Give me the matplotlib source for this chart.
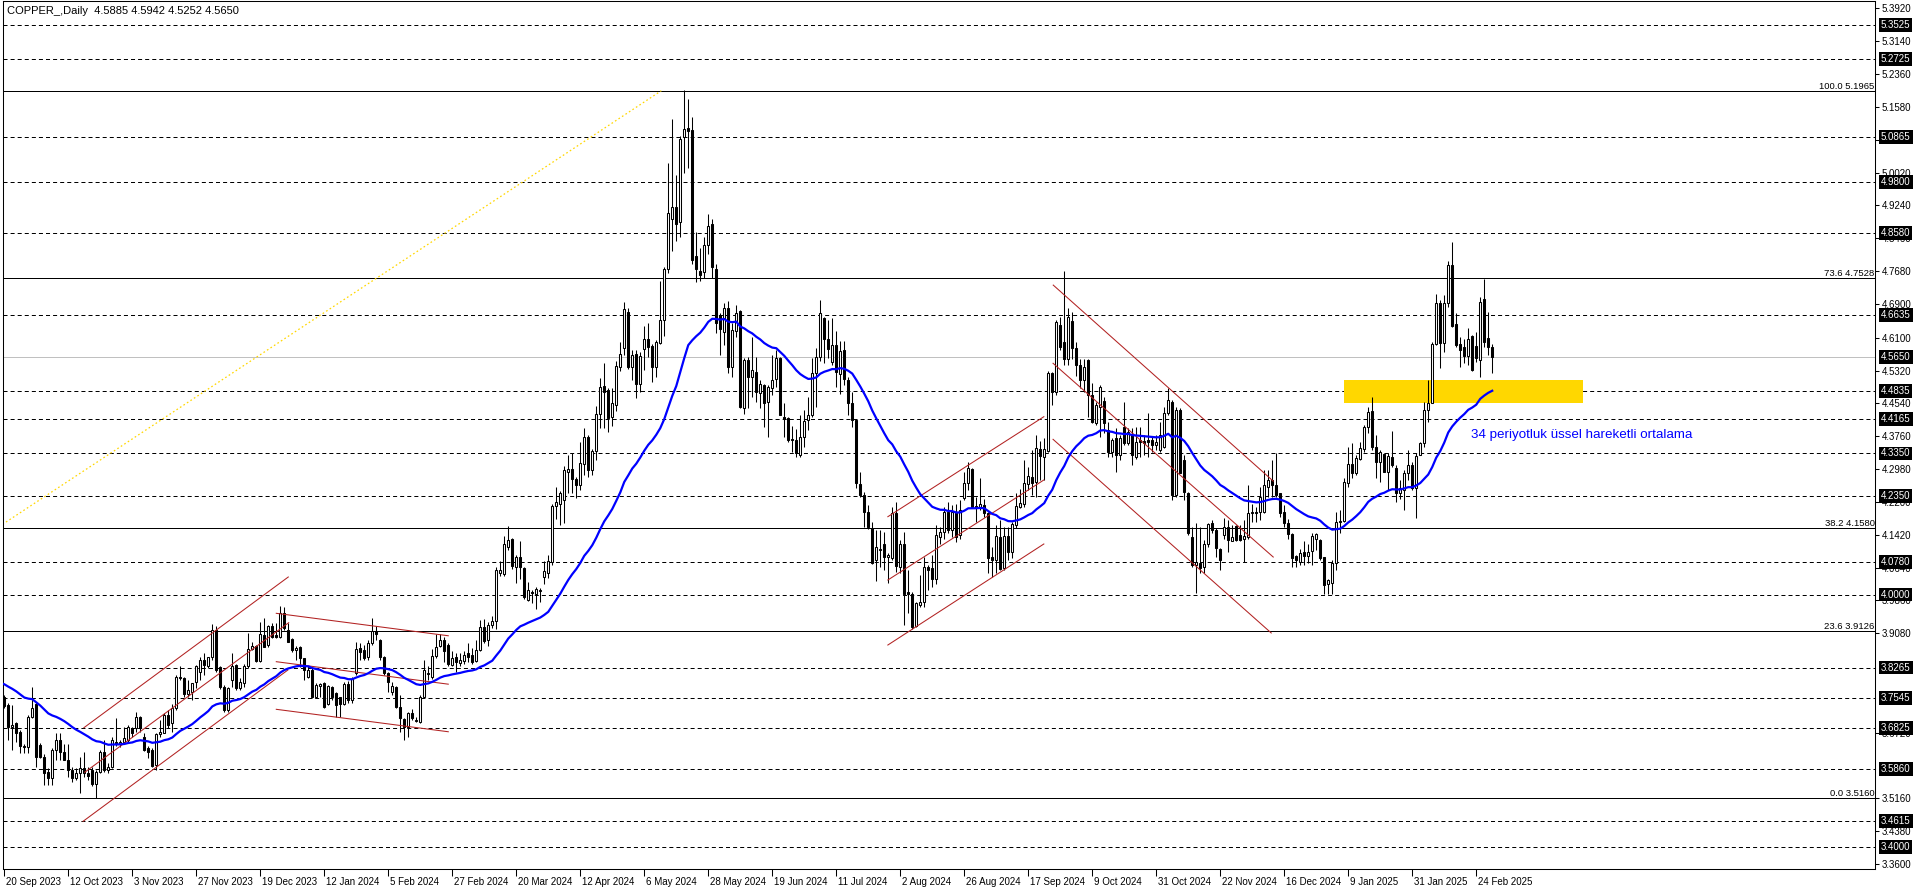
"""Daily COPPER_ candlestick chart with EMA(34), fib levels, channels and S/R lines."""

import matplotlib

matplotlib.use("Agg")
import matplotlib.pyplot as plt
import matplotlib.transforms as mtransforms
from matplotlib.patches import Rectangle
import numpy as np
import pandas as pd

plt.rcParams["font.family"] = ["Liberation Sans", "DejaVu Sans"]
plt.rcParams["lines.scale_dashes"] = False

TITLE = "COPPER_,Daily  4.5885 4.5942 4.5252 4.5650"
EMA_PERIOD = 34
EMA_SEED = 3.79  # EMA value on the bar before the first visible one
LABEL_STEP = 16  # bars between date labels

date_labels = [
    "20 Sep 2023", "12 Oct 2023", "3 Nov 2023", "27 Nov 2023", "19 Dec 2023",
    "12 Jan 2024", "5 Feb 2024", "27 Feb 2024", "20 Mar 2024", "12 Apr 2024",
    "6 May 2024", "28 May 2024", "19 Jun 2024", "11 Jul 2024", "2 Aug 2024",
    "26 Aug 2024", "17 Sep 2024", "9 Oct 2024", "31 Oct 2024", "22 Nov 2024",
    "16 Dec 2024", "9 Jan 2025", "31 Jan 2025", "24 Feb 2025",
]

# daily OHLC (10 bars per row)
opens = [
    3.756, 3.738, 3.686, 3.694, 3.673, 3.641, 3.637, 3.710, 3.740, 3.642,
    3.615, 3.579, 3.563, 3.631, 3.654, 3.627, 3.607, 3.583, 3.563, 3.577,
    3.589, 3.575, 3.583, 3.551, 3.579, 3.627, 3.583, 3.591, 3.650, 3.646,
    3.650, 3.654, 3.682, 3.682, 3.710, 3.662, 3.635, 3.631, 3.595, 3.669,
    3.672, 3.714, 3.694, 3.730, 3.805, 3.801, 3.764, 3.769, 3.793, 3.815,
    3.844, 3.829, 3.851, 3.916, 3.827, 3.781, 3.726, 3.797, 3.833, 3.777,
    3.789, 3.829, 3.870, 3.878, 3.843, 3.904, 3.880, 3.924, 3.904, 3.898,
    3.955, 3.916, 3.894, 3.868, 3.875, 3.848, 3.805, 3.821, 3.757, 3.783,
    3.789, 3.741, 3.780, 3.767, 3.756, 3.740, 3.787, 3.750, 3.813, 3.872,
    3.867, 3.852, 3.884, 3.914, 3.892, 3.852, 3.814, 3.769, 3.781, 3.732,
    3.704, 3.686, 3.719, 3.700, 3.698, 3.757, 3.811, 3.805, 3.855, 3.878,
    3.892, 3.880, 3.832, 3.852, 3.838, 3.842, 3.860, 3.857, 3.842, 3.868,
    3.922, 3.892, 3.928, 3.937, 4.052, 4.048, 4.112, 4.132, 4.065, 4.088,
    4.062, 3.988, 4.005, 4.002, 4.008, 4.042, 4.052, 4.078, 4.210, 4.215,
    4.225, 4.290, 4.298, 4.275, 4.260, 4.310, 4.375, 4.295, 4.340, 4.428,
    4.495, 4.485, 4.422, 4.450, 4.540, 4.585, 4.672, 4.540, 4.571, 4.501,
    4.582, 4.608, 4.590, 4.540, 4.598, 4.652, 4.772, 4.893, 4.921, 4.885,
    5.087, 5.107, 5.103, 4.804, 4.769, 4.767, 4.830, 4.880, 4.774, 4.664,
    4.624, 4.680, 4.541, 4.625, 4.674, 4.442, 4.558, 4.516, 4.529, 4.479,
    4.497, 4.458, 4.490, 4.511, 4.561, 4.422, 4.420, 4.370, 4.368, 4.331,
    4.375, 4.414, 4.426, 4.525, 4.563, 4.656, 4.606, 4.553, 4.592, 4.523,
    4.580, 4.509, 4.454, 4.414, 4.262, 4.236, 4.195, 4.159, 4.082, 4.105,
    4.119, 4.090, 4.086, 4.193, 4.066, 4.119, 4.006, 4.002, 3.925, 3.975,
    3.983, 4.066, 4.062, 4.038, 4.137, 4.149, 4.197, 4.153, 4.195, 4.141,
    4.230, 4.264, 4.298, 4.210, 4.205, 4.212, 4.193, 4.090, 4.082, 4.137,
    4.062, 4.139, 4.102, 4.165, 4.208, 4.216, 4.262, 4.280, 4.268, 4.345,
    4.327, 4.341, 4.527, 4.482, 4.640, 4.600, 4.560, 4.650, 4.585, 4.545,
    4.510, 4.557, 4.474, 4.407, 4.446, 4.460, 4.391, 4.339, 4.371, 4.331,
    4.399, 4.359, 4.379, 4.327, 4.367, 4.365, 4.367, 4.367, 4.355, 4.343,
    4.351, 4.430, 4.458, 4.236, 4.438, 4.319, 4.240, 4.137, 4.070, 4.074,
    4.066, 4.121, 4.171, 4.153, 4.107, 4.141, 4.161, 4.128, 4.163, 4.141,
    4.133, 4.137, 4.193, 4.197, 4.195, 4.197, 4.256, 4.272, 4.260, 4.240,
    4.197, 4.169, 4.143, 4.092, 4.078, 4.101, 4.092, 4.104, 4.131, 4.129,
    4.090, 4.026, 4.028, 4.074, 4.173, 4.175, 4.264, 4.311, 4.288, 4.323,
    4.345, 4.399, 4.436, 4.351, 4.315, 4.333, 4.292, 4.327, 4.301, 4.240,
    4.248, 4.288, 4.307, 4.252, 4.331, 4.359, 4.438, 4.454, 4.595, 4.693,
    4.597, 4.692, 4.783, 4.642, 4.595, 4.587, 4.567, 4.614, 4.590, 4.557,
    4.703, 4.610, 4.5885,
]
highs = [
    3.762, 3.742, 3.738, 3.698, 3.678, 3.646, 3.714, 3.781, 3.745, 3.648,
    3.620, 3.587, 3.635, 3.670, 3.670, 3.646, 3.646, 3.590, 3.587, 3.615,
    3.627, 3.590, 3.590, 3.583, 3.631, 3.654, 3.600, 3.662, 3.706, 3.654,
    3.686, 3.690, 3.686, 3.722, 3.712, 3.670, 3.640, 3.635, 3.670, 3.702,
    3.718, 3.726, 3.741, 3.809, 3.829, 3.805, 3.797, 3.790, 3.833, 3.852,
    3.860, 3.851, 3.930, 3.925, 3.830, 3.785, 3.781, 3.860, 3.836, 3.801,
    3.835, 3.908, 3.888, 3.880, 3.935, 3.943, 3.928, 3.933, 3.932, 3.973,
    3.971, 3.932, 3.896, 3.878, 3.878, 3.850, 3.829, 3.825, 3.789, 3.789,
    3.791, 3.785, 3.783, 3.769, 3.757, 3.791, 3.795, 3.803, 3.888, 3.884,
    3.880, 3.892, 3.943, 3.925, 3.894, 3.854, 3.817, 3.793, 3.783, 3.761,
    3.706, 3.722, 3.727, 3.710, 3.761, 3.844, 3.829, 3.870, 3.905, 3.905,
    3.900, 3.885, 3.865, 3.860, 3.860, 3.865, 3.885, 3.872, 3.892, 3.940,
    3.942, 3.935, 3.950, 4.065, 4.080, 4.138, 4.162, 4.135, 4.095, 4.128,
    4.065, 4.030, 4.010, 4.018, 4.015, 4.080, 4.095, 4.215, 4.255, 4.245,
    4.305, 4.332, 4.335, 4.280, 4.362, 4.395, 4.380, 4.345, 4.448, 4.515,
    4.550, 4.490, 4.490, 4.555, 4.600, 4.695, 4.680, 4.580, 4.581, 4.575,
    4.637, 4.644, 4.596, 4.604, 4.745, 4.779, 5.024, 5.129, 4.996, 5.089,
    5.198, 5.178, 5.133, 4.862, 4.822, 4.850, 4.904, 4.893, 4.785, 4.668,
    4.693, 4.698, 4.644, 4.687, 4.676, 4.561, 4.565, 4.612, 4.565, 4.509,
    4.501, 4.497, 4.569, 4.581, 4.565, 4.454, 4.422, 4.400, 4.394, 4.426,
    4.438, 4.470, 4.561, 4.585, 4.699, 4.660, 4.652, 4.656, 4.626, 4.603,
    4.603, 4.517, 4.482, 4.418, 4.292, 4.244, 4.212, 4.173, 4.153, 4.153,
    4.149, 4.098, 4.208, 4.220, 4.129, 4.149, 4.058, 4.006, 3.983, 4.046,
    4.090, 4.070, 4.094, 4.165, 4.161, 4.208, 4.220, 4.212, 4.216, 4.224,
    4.292, 4.315, 4.300, 4.232, 4.276, 4.226, 4.197, 4.113, 4.165, 4.177,
    4.161, 4.161, 4.173, 4.240, 4.250, 4.319, 4.303, 4.343, 4.379, 4.365,
    4.371, 4.532, 4.529, 4.653, 4.660, 4.768, 4.680, 4.672, 4.600, 4.560,
    4.560, 4.560, 4.502, 4.458, 4.498, 4.470, 4.410, 4.371, 4.395, 4.379,
    4.458, 4.395, 4.395, 4.399, 4.399, 4.379, 4.430, 4.375, 4.379, 4.410,
    4.446, 4.490, 4.462, 4.446, 4.442, 4.331, 4.244, 4.161, 4.169, 4.161,
    4.129, 4.170, 4.177, 4.157, 4.110, 4.181, 4.177, 4.165, 4.165, 4.165,
    4.177, 4.260, 4.216, 4.209, 4.256, 4.296, 4.296, 4.319, 4.335, 4.240,
    4.212, 4.180, 4.145, 4.094, 4.109, 4.127, 4.121, 4.145, 4.147, 4.133,
    4.090, 4.038, 4.082, 4.197, 4.200, 4.276, 4.351, 4.359, 4.331, 4.363,
    4.403, 4.446, 4.468, 4.379, 4.343, 4.337, 4.335, 4.389, 4.307, 4.272,
    4.296, 4.343, 4.315, 4.337, 4.363, 4.458, 4.509, 4.600, 4.713, 4.699,
    4.711, 4.791, 4.838, 4.668, 4.612, 4.606, 4.632, 4.616, 4.624, 4.706,
    4.749, 4.670, 4.5942,
]
lows = [
    3.730, 3.654, 3.631, 3.650, 3.623, 3.623, 3.623, 3.706, 3.591, 3.611,
    3.547, 3.547, 3.547, 3.607, 3.608, 3.607, 3.567, 3.554, 3.560, 3.528,
    3.567, 3.560, 3.545, 3.516, 3.575, 3.579, 3.575, 3.587, 3.639, 3.638,
    3.646, 3.650, 3.662, 3.674, 3.674, 3.628, 3.611, 3.591, 3.583, 3.662,
    3.670, 3.682, 3.674, 3.726, 3.797, 3.757, 3.757, 3.749, 3.777, 3.797,
    3.809, 3.825, 3.844, 3.817, 3.775, 3.722, 3.722, 3.781, 3.773, 3.773,
    3.781, 3.825, 3.868, 3.840, 3.840, 3.875, 3.876, 3.896, 3.896, 3.896,
    3.916, 3.886, 3.864, 3.844, 3.827, 3.797, 3.801, 3.755, 3.753, 3.756,
    3.730, 3.737, 3.749, 3.710, 3.710, 3.737, 3.743, 3.743, 3.809, 3.844,
    3.844, 3.844, 3.880, 3.892, 3.844, 3.809, 3.769, 3.761, 3.730, 3.674,
    3.654, 3.662, 3.702, 3.698, 3.694, 3.753, 3.797, 3.800, 3.850, 3.875,
    3.840, 3.830, 3.830, 3.815, 3.830, 3.835, 3.840, 3.835, 3.840, 3.865,
    3.885, 3.878, 3.920, 3.918, 4.045, 4.045, 4.105, 4.060, 4.028, 4.038,
    3.990, 3.985, 3.980, 3.965, 3.982, 4.025, 4.040, 4.070, 4.180, 4.165,
    4.170, 4.240, 4.240, 4.230, 4.248, 4.285, 4.280, 4.285, 4.320, 4.395,
    4.395, 4.385, 4.400, 4.435, 4.530, 4.570, 4.535, 4.510, 4.466, 4.480,
    4.533, 4.565, 4.505, 4.517, 4.596, 4.614, 4.764, 4.817, 4.840, 4.848,
    5.002, 5.012, 4.786, 4.743, 4.745, 4.751, 4.809, 4.751, 4.620, 4.569,
    4.592, 4.525, 4.517, 4.612, 4.442, 4.428, 4.442, 4.470, 4.458, 4.442,
    4.398, 4.375, 4.474, 4.493, 4.426, 4.375, 4.363, 4.339, 4.327, 4.327,
    4.351, 4.390, 4.422, 4.446, 4.555, 4.549, 4.561, 4.545, 4.493, 4.476,
    4.497, 4.426, 4.399, 4.252, 4.232, 4.161, 4.155, 4.072, 4.032, 4.066,
    4.058, 4.028, 4.082, 4.054, 4.050, 3.927, 3.955, 3.919, 3.923, 3.971,
    3.971, 4.010, 4.018, 4.026, 4.121, 4.133, 4.145, 4.137, 4.125, 4.133,
    4.225, 4.248, 4.205, 4.173, 4.201, 4.185, 4.050, 4.042, 4.050, 4.058,
    4.058, 4.082, 4.086, 4.157, 4.205, 4.208, 4.248, 4.236, 4.232, 4.272,
    4.272, 4.339, 4.450, 4.474, 4.581, 4.545, 4.545, 4.560, 4.520, 4.490,
    4.480, 4.422, 4.407, 4.403, 4.375, 4.383, 4.327, 4.327, 4.292, 4.319,
    4.355, 4.355, 4.308, 4.323, 4.327, 4.331, 4.327, 4.339, 4.343, 4.339,
    4.347, 4.426, 4.224, 4.232, 4.288, 4.224, 4.141, 4.066, 4.003, 4.050,
    4.050, 4.113, 4.145, 4.090, 4.058, 4.133, 4.102, 4.126, 4.126, 4.126,
    4.078, 4.133, 4.173, 4.173, 4.177, 4.193, 4.232, 4.232, 4.232, 4.185,
    4.161, 4.131, 4.066, 4.066, 4.070, 4.070, 4.074, 4.070, 4.105, 4.082,
    4.002, 4.002, 4.002, 4.058, 4.147, 4.173, 4.256, 4.276, 4.284, 4.319,
    4.339, 4.383, 4.343, 4.276, 4.268, 4.290, 4.248, 4.303, 4.220, 4.228,
    4.200, 4.272, 4.248, 4.181, 4.331, 4.351, 4.410, 4.454, 4.593, 4.539,
    4.575, 4.684, 4.636, 4.589, 4.541, 4.551, 4.545, 4.532, 4.553, 4.516,
    4.589, 4.570, 4.5252,
]
closes = [
    3.735, 3.686, 3.690, 3.670, 3.641, 3.637, 3.710, 3.730, 3.615, 3.613,
    3.575, 3.563, 3.631, 3.654, 3.627, 3.608, 3.583, 3.563, 3.575, 3.589,
    3.575, 3.570, 3.549, 3.579, 3.627, 3.583, 3.591, 3.654, 3.645, 3.650,
    3.658, 3.686, 3.670, 3.710, 3.682, 3.631, 3.627, 3.593, 3.669, 3.674,
    3.714, 3.690, 3.730, 3.805, 3.801, 3.764, 3.772, 3.789, 3.829, 3.844,
    3.833, 3.851, 3.916, 3.821, 3.781, 3.726, 3.777, 3.830, 3.777, 3.791,
    3.830, 3.870, 3.878, 3.843, 3.906, 3.876, 3.924, 3.898, 3.900, 3.955,
    3.920, 3.888, 3.867, 3.872, 3.848, 3.821, 3.821, 3.756, 3.785, 3.787,
    3.732, 3.783, 3.756, 3.737, 3.740, 3.787, 3.750, 3.799, 3.870, 3.864,
    3.848, 3.884, 3.914, 3.905, 3.851, 3.813, 3.791, 3.783, 3.732, 3.706,
    3.686, 3.718, 3.706, 3.703, 3.757, 3.821, 3.813, 3.855, 3.875, 3.892,
    3.865, 3.835, 3.850, 3.840, 3.845, 3.857, 3.852, 3.840, 3.868, 3.922,
    3.890, 3.928, 3.937, 4.058, 4.058, 4.120, 4.130, 4.068, 4.090, 4.065,
    3.995, 4.010, 4.003, 4.012, 4.010, 4.055, 4.080, 4.210, 4.220, 4.242,
    4.295, 4.298, 4.275, 4.260, 4.312, 4.375, 4.295, 4.340, 4.428, 4.492,
    4.480, 4.420, 4.455, 4.542, 4.572, 4.678, 4.540, 4.568, 4.501, 4.566,
    4.608, 4.588, 4.540, 4.600, 4.653, 4.772, 4.905, 4.921, 4.880, 5.081,
    5.105, 5.101, 4.794, 4.774, 4.759, 4.830, 4.875, 4.777, 4.644, 4.630,
    4.680, 4.541, 4.628, 4.669, 4.446, 4.557, 4.516, 4.533, 4.482, 4.499,
    4.456, 4.492, 4.509, 4.561, 4.426, 4.418, 4.367, 4.366, 4.335, 4.373,
    4.413, 4.426, 4.525, 4.563, 4.669, 4.606, 4.582, 4.592, 4.529, 4.579,
    4.511, 4.454, 4.414, 4.264, 4.236, 4.195, 4.161, 4.074, 4.113, 4.109,
    4.090, 4.094, 4.193, 4.067, 4.121, 4.002, 4.002, 3.923, 3.979, 3.983,
    4.066, 4.058, 4.038, 4.141, 4.149, 4.197, 4.153, 4.195, 4.137, 4.201,
    4.264, 4.300, 4.208, 4.205, 4.216, 4.193, 4.086, 4.082, 4.139, 4.060,
    4.139, 4.102, 4.167, 4.210, 4.218, 4.264, 4.281, 4.266, 4.347, 4.329,
    4.345, 4.527, 4.482, 4.648, 4.589, 4.560, 4.660, 4.585, 4.545, 4.510,
    4.540, 4.474, 4.410, 4.450, 4.494, 4.407, 4.339, 4.367, 4.331, 4.371,
    4.359, 4.387, 4.331, 4.363, 4.363, 4.359, 4.363, 4.355, 4.363, 4.379,
    4.430, 4.462, 4.236, 4.438, 4.288, 4.244, 4.145, 4.070, 4.078, 4.062,
    4.121, 4.167, 4.153, 4.110, 4.082, 4.161, 4.129, 4.137, 4.129, 4.129,
    4.139, 4.194, 4.197, 4.193, 4.232, 4.260, 4.272, 4.260, 4.236, 4.193,
    4.169, 4.143, 4.086, 4.082, 4.098, 4.092, 4.100, 4.139, 4.143, 4.086,
    4.022, 4.034, 4.074, 4.173, 4.175, 4.268, 4.311, 4.288, 4.325, 4.347,
    4.399, 4.434, 4.351, 4.315, 4.339, 4.292, 4.329, 4.307, 4.240, 4.252,
    4.288, 4.307, 4.252, 4.329, 4.359, 4.438, 4.454, 4.595, 4.693, 4.597,
    4.692, 4.783, 4.638, 4.593, 4.581, 4.567, 4.608, 4.533, 4.561, 4.695,
    4.600, 4.588, 4.5650,
]

# Fibonacci retracement object
fib_levels = [5.1965, 4.7528, 4.1580, 3.9126, 3.5160]
fib_names = ["100.0", "73.6", "38.2", "23.6", "0.0"]
fib_anchor_bars = [-104.5, 164.25]
fib_anchor_prices = [3.5160, 5.1965]

# horizontal dashed lines and the bid line
dashed_levels = [5.3525, 5.2725, 5.0865, 4.9800, 4.8580, 4.6635, 4.4835, 4.4165,
                 4.3350, 4.2350, 4.0780, 4.0000, 3.8265, 3.7545, 3.6825, 3.5860,
                 3.4615, 3.4000]
bid_price = 4.5650

# grid ticks of the price scale that are not fully covered by a level label
axis_ticks = [5.3920, 5.3140, 5.2360, 5.1580, 5.0800, 5.0020, 4.9240, 4.8460,
              4.7680, 4.6900, 4.6100, 4.5320, 4.4540, 4.3760, 4.2980, 4.2200,
              4.1420, 4.0640, 3.9860, 3.9080, 3.6720, 3.5160, 3.4380, 3.3600]

# trend channel lines: (bar0, price0, bar1, price1)
channel_lines = [
    (19.9, 3.6836, 71.0, 4.0416),
    (20.1, 3.5777, 71.1, 3.9330),
    (19.7, 3.4613, 70.9, 3.8207),
    (68.0, 3.9553, 111.0, 3.9020),
    (68.0, 3.8404, 111.0, 3.7870),
    (68.0, 3.7273, 111.0, 3.6740),
    (220.9, 4.1848, 259.9, 4.4223),
    (220.9, 4.0344, 259.9, 4.2720),
    (220.9, 3.8800, 259.9, 4.1200),
    (262.25, 4.7349, 317.25, 4.2693),
    (262.2, 4.5492, 317.25, 4.0890),
    (262.2, 4.3686, 316.75, 3.9086),
]

zone_bars = (335.0, 394.75)
zone_prices = (4.4556, 4.5095)

ema_note = "34 periyotluk üssel hareketli ortalama"
ema_note_bar = 366.75
ema_note_price = 4.379


fig = plt.figure(figsize=(19.16, 8.88), dpi=100)
ax = fig.add_axes([2.7 / 1916, 19 / 888, 1872.3 / 1916, 868 / 888])
ax.set_xlim(-0.4, 467.7)
ax.set_ylim(3.3480, 5.4097)

dash = (0, (2.9, 2.2))
for lv in dashed_levels:
    ax.axhline(lv, color="black", lw=0.72, ls=dash, zorder=1)
ax.axhline(bid_price, color="#C0C0C0", lw=0.72, zorder=1)
for lv, name in zip(fib_levels, fib_names):
    ax.axhline(lv, color="black", lw=0.72, zorder=1)
    ax.text(467.6, lv, f"{name} {lv:.4f}", ha="right", va="bottom",
            fontsize=6.8, zorder=7)
ax.plot(fib_anchor_bars, fib_anchor_prices, color="#FFD700", lw=0.9,
        ls=(0, (1.2, 1.8)), zorder=2)

ax.add_patch(Rectangle((zone_bars[0], zone_prices[0]), zone_bars[1] - zone_bars[0],
                       zone_prices[1] - zone_prices[0], facecolor="#FFD700",
                       edgecolor="none", zorder=2))

# candles
o = np.array(opens)
h = np.array(highs)
lo = np.array(lows)
c = np.array(closes)
x = np.arange(len(c))
up = c >= o
ax.vlines(x, lo, h, color="black", lw=0.75, zorder=3)
ax.bar(x[up], (c - o)[up], bottom=o[up], width=0.55, facecolor="white",
       edgecolor="black", lw=0.75, zorder=4)
ax.bar(x[~up], (o - c)[~up], bottom=c[~up], width=0.55, facecolor="black",
       edgecolor="black", lw=0.75, zorder=4)

for b0, p0, b1, p1 in channel_lines:
    ax.plot([b0, b1], [p0, p1], color="#B22222", lw=0.75, zorder=5)

ema = pd.Series([EMA_SEED] + closes).ewm(span=EMA_PERIOD, adjust=False).mean()
ax.plot(np.arange(-1, len(closes)), ema.to_numpy(), color="#0000FF", lw=1.6, zorder=6)

ax.text(ema_note_bar, ema_note_price, ema_note, color="#0000FF", fontsize=9.6,
        ha="left", va="center", zorder=7)

# right price axis
ax.yaxis.tick_right()
ax.set_yticks(axis_ticks)
ax.set_yticklabels([f"{t:.4f}" for t in axis_ticks])
ax.tick_params(axis="y", direction="out", length=3, width=0.75, pad=2, labelsize=7)
box_trans = (mtransforms.blended_transform_factory(ax.transAxes, ax.transData)
             + mtransforms.ScaledTranslation(6 / 100, 0, fig.dpi_scale_trans))
for lv in dashed_levels + [bid_price]:
    ax.text(1.0, lv, f"{lv:.4f}", transform=box_trans, ha="left", va="center",
            fontsize=7, color="white", clip_on=False, zorder=10,
            bbox=dict(boxstyle="square,pad=0.2", fc="black", ec="none"))

# bottom date axis
ax.set_xticks(np.arange(len(date_labels)) * LABEL_STEP)
ax.set_xticklabels(date_labels, ha="left")
ax.tick_params(axis="x", direction="out", length=5, width=0.75, pad=1, labelsize=7)
shift = mtransforms.ScaledTranslation(2 / 100, 0, fig.dpi_scale_trans)
for lbl in ax.get_xticklabels():
    lbl.set_transform(lbl.get_transform() + shift)

for sp in ax.spines.values():
    sp.set_linewidth(0.75)

fig.text(7 / 1916, 1 - 11 / 888, TITLE, fontsize=8, ha="left", va="center")

fig.savefig("out.png", dpi=100)
